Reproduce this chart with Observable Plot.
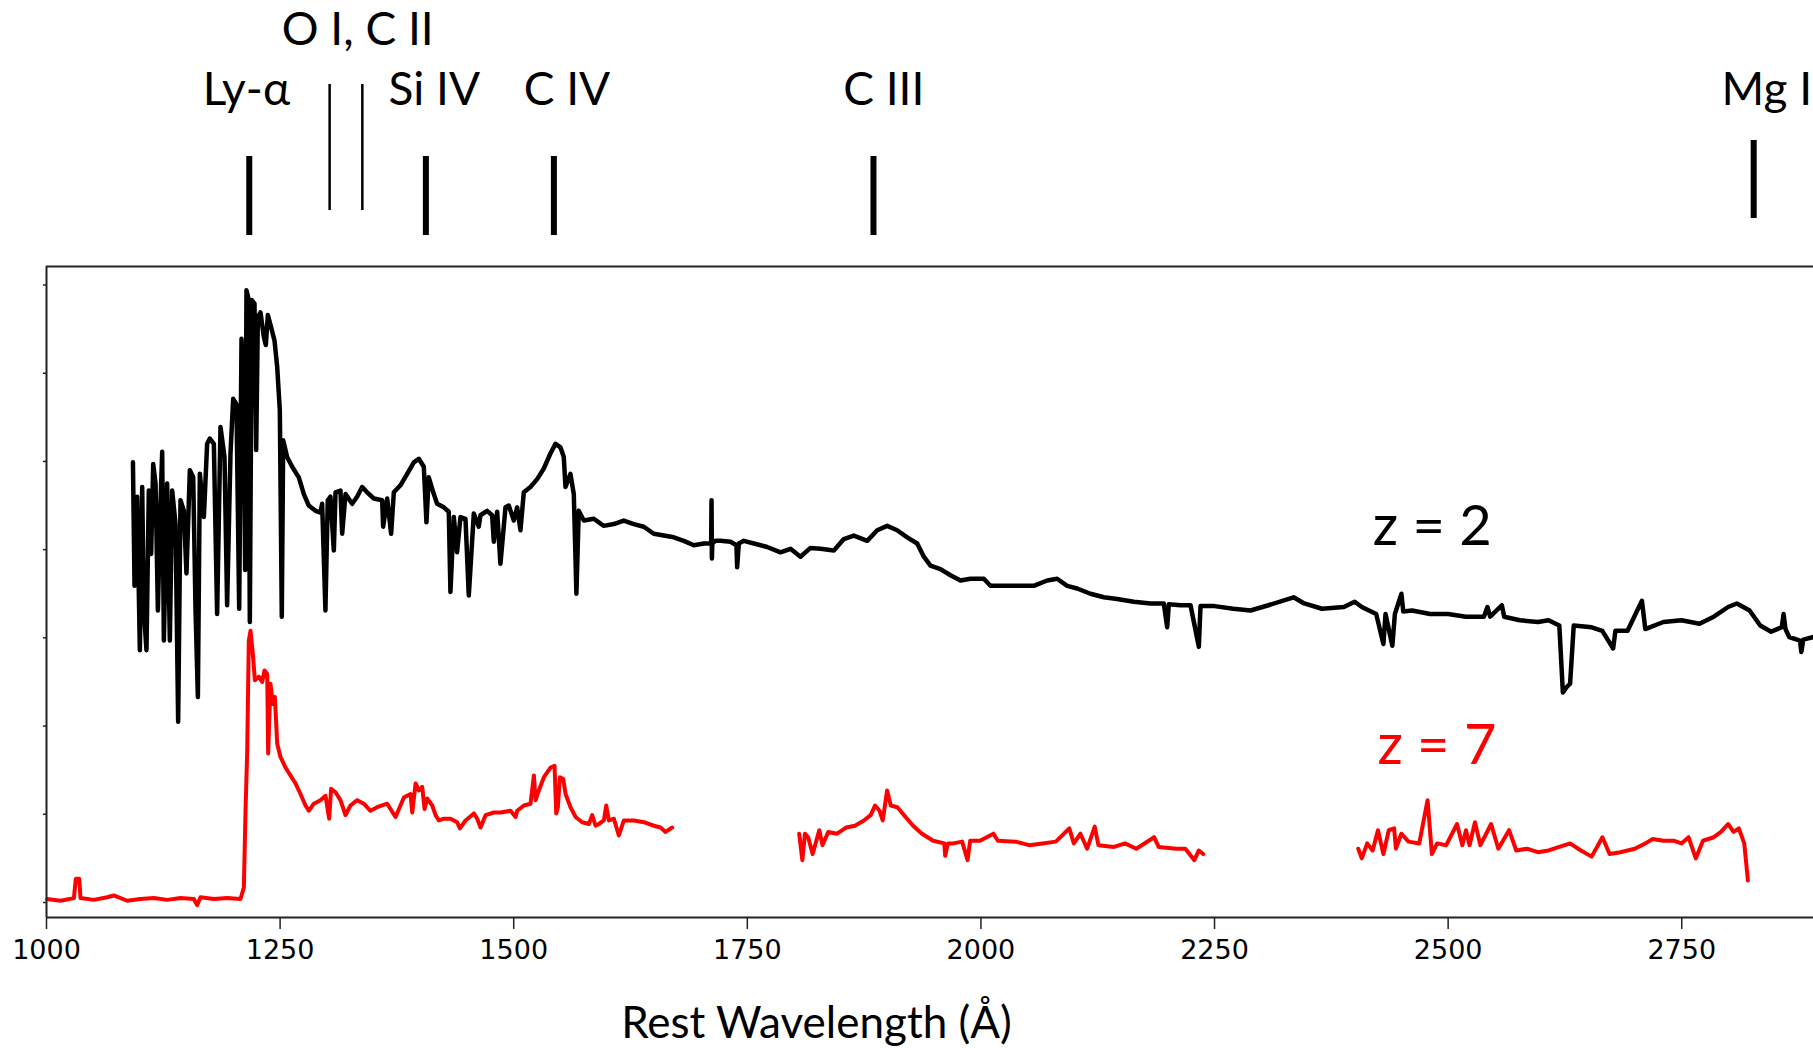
<!DOCTYPE html>
<html><head><meta charset="utf-8">
<script src="https://cdn.jsdelivr.net/npm/d3@7"></script>
<script src="https://cdn.jsdelivr.net/npm/@observablehq/plot@0.6"></script>
<style>
html,body{margin:0;padding:0;background:#fff;overflow:hidden;width:1813px;height:1048px}
#chart svg{display:block}
</style></head><body><div id="chart"></div>
<script>
// ---------------- DATA ----------------
const xDomain = [1000, 2891];
const yDomain = [-0.17, 7.21];
const xTicks = [1000, 1250, 1500, 1750, 2000, 2250, 2500, 2750];
const yTicks = [0, 1, 2, 3, 4, 5, 6, 7];
const xLabel = "Rest Wavelength (Å)";
const xLabelWave = 1824;

// emission line markers (rest wavelength, Å)
const lineNames = ["Ly-α", "O I", "C II", "Si IV", "C IV", "C III", "Mg II"];
const lineWaves = [1217, 1303, 1338, 1406, 1543, 1885, 2827];
const lineKinds = ["strong", "weak", "weak", "strong", "strong", "strong", "strong"];

// marker labels
const labelTexts = ["Ly-α", "O I, C II", "Si IV", "C IV", "C III", "Mg II"];
const labelWaves = [1214, 1333, 1415, 1557, 1896, 2848];
const labelRows = [1, 0, 1, 1, 1, 1];

// series labels
const seriesNames = ["z = 2", "z = 7"];
const seriesLabelWaves = [2483, 2488];
const seriesLabelFlux = [4.26, 1.77];

// z = 2 spectrum [wavelength, flux]
const z2Spectrum = [
[1092.5,4.99],[1094.2,3.59],[1097.0,4.60],[1099.9,2.86],[1102.4,4.71],[1104.2,3.31],[1107.0,2.86],[1109.5,4.67],
[1112.0,3.95],[1114.2,4.97],[1116.7,4.75],[1119.2,3.31],[1122.0,4.52],[1123.8,5.11],[1125.6,2.97],[1129.1,4.75],
[1132.0,2.97],[1134.5,4.67],[1138.1,4.29],[1140.9,2.05],[1143.4,4.56],[1147.0,4.44],[1149.8,3.73],[1153.4,4.90],
[1157.0,4.82],[1159.5,3.31],[1162.0,2.33],[1164.1,4.86],[1168.4,4.37],[1171.9,5.20],[1174.8,5.26],[1179.1,5.20],
[1182.6,3.27],[1186.2,5.39],[1190.5,5.05],[1193.3,3.37],[1196.9,5.09],[1199.8,5.71],[1203.3,5.65],[1206.2,3.33],
[1208.7,6.39],[1211.2,5.58],[1212.6,3.77],[1214.0,6.94],[1215.8,6.86],[1217.6,3.18],[1219.7,6.83],[1222.6,6.79],
[1224.4,5.13],[1226.2,6.64],[1229.0,6.69],[1232.6,6.41],[1234.7,6.32],[1236.9,6.66],[1240.4,6.52],[1244.0,6.37],
[1246.9,6.07],[1249.7,5.58],[1251.8,3.24],[1253.3,5.24],[1257.5,5.05],[1262.9,4.94],[1270.0,4.82],[1275.4,4.63],
[1280.7,4.50],[1287.9,4.44],[1293.2,4.42],[1295.0,4.52],[1298.5,3.31],[1301.0,4.56],[1303.9,4.60],[1307.5,3.99],
[1309.3,4.65],[1314.6,4.67],[1316.4,4.18],[1320.0,4.63],[1327.1,4.52],[1332.4,4.60],[1337.8,4.71],[1343.1,4.65],
[1350.3,4.58],[1359.2,4.56],[1360.3,4.26],[1364.6,4.58],[1368.8,4.18],[1371.7,4.65],[1378.8,4.73],[1386.0,4.86],
[1393.1,4.99],[1398.4,5.03],[1403.8,4.94],[1406.6,4.31],[1409.1,4.82],[1414.5,4.63],[1418.0,4.52],[1425.2,4.48],
[1430.5,4.43],[1432.3,3.52],[1435.9,4.37],[1439.4,3.97],[1443.0,4.37],[1448.4,4.35],[1451.9,3.48],[1457.3,4.41],
[1462.6,4.26],[1464.4,4.39],[1471.6,4.44],[1476.9,4.39],[1478.7,4.09],[1482.3,4.43],[1485.8,3.84],[1491.2,4.48],
[1494.7,4.50],[1500.1,4.33],[1503.7,4.48],[1507.2,4.22],[1510.8,4.65],[1517.9,4.71],[1525.1,4.80],[1532.2,4.92],
[1539.3,5.09],[1544.7,5.20],[1550.0,5.16],[1553.6,5.05],[1555.4,4.71],[1560.7,4.86],[1564.3,4.63],[1567.1,3.50],
[1569.6,4.44],[1575.0,4.33],[1585.7,4.35],[1596.4,4.27],[1607.1,4.29],[1617.8,4.33],[1628.5,4.29],[1639.2,4.26],
[1649.9,4.18],[1660.6,4.16],[1671.3,4.14],[1682.0,4.10],[1692.7,4.05],[1703.4,4.07],[1711.3,4.07],[1711.7,4.56],
[1712.1,3.90],[1712.5,4.07],[1716.0,4.10],[1721.3,4.10],[1732.0,4.09],[1738.4,4.05],[1739.1,3.80],[1740.9,4.07],
[1746.3,4.10],[1757.0,4.07],[1771.2,4.03],[1785.5,3.97],[1796.2,4.01],[1806.9,3.92],[1817.6,4.02],[1828.3,4.01],
[1842.6,3.99],[1853.3,4.12],[1864.0,4.16],[1878.3,4.10],[1889.0,4.22],[1899.7,4.27],[1910.3,4.22],[1921.1,4.14],
[1931.8,4.07],[1938.9,3.92],[1946.0,3.82],[1956.7,3.78],[1967.4,3.71],[1978.1,3.65],[1988.8,3.67],[2003.1,3.67],
[2010.2,3.59],[2020.9,3.59],[2038.8,3.59],[2056.6,3.59],[2070.9,3.65],[2081.6,3.67],[2092.3,3.59],[2103.0,3.56],
[2117.2,3.50],[2131.5,3.46],[2145.8,3.44],[2163.6,3.41],[2181.5,3.39],[2195.7,3.39],[2199.3,3.12],[2201.1,3.38],
[2213.5,3.37],[2224.3,3.37],[2233.2,2.90],[2235.0,3.36],[2250.0,3.36],[2270.0,3.33],[2288.5,3.31],[2307.7,3.37],
[2334.6,3.46],[2346.0,3.39],[2365.0,3.33],[2388.4,3.35],[2400.0,3.41],[2407.6,3.35],[2423.0,3.27],[2430.7,2.93],
[2433.0,3.27],[2440.3,2.91],[2443.0,3.27],[2450.0,3.50],[2452.0,3.30],[2461.4,3.31],[2480.7,3.27],[2499.9,3.27],
[2519.0,3.24],[2538.3,3.24],[2542.0,3.35],[2545.0,3.24],[2557.5,3.37],[2560.0,3.24],[2576.7,3.20],[2596.0,3.18],
[2607.5,3.20],[2619.0,3.14],[2622.8,2.38],[2626.7,2.44],[2630.5,2.48],[2634.4,3.14],[2653.6,3.12],[2665.0,3.08],
[2676.6,2.88],[2679.0,3.08],[2692.0,3.08],[2707.4,3.42],[2711.0,3.10],[2730.4,3.18],[2749.7,3.20],[2769.0,3.16],
[2784.3,3.24],[2799.6,3.35],[2809.0,3.39],[2822.6,3.31],[2834.0,3.14],[2845.7,3.07],[2857.0,3.12],[2859.0,3.27],
[2861.0,3.10],[2865.0,3.01],[2876.5,2.97],[2878.0,2.84],[2880.0,2.98],[2891.0,3.01]
];

// z = 7 spectrum, three observed segments [wavelength, flux]
const z7Segment1 = [
[1000.7,0.04],[1015.0,0.02],[1029.3,0.05],[1031.4,0.27],[1035.0,0.27],[1036.4,0.05],[1050.7,0.03],[1064.9,0.06],
[1072.0,0.08],[1086.3,0.02],[1100.6,0.04],[1114.9,0.05],[1129.1,0.03],[1143.4,0.05],[1157.7,0.04],[1161.2,-0.03],
[1164.8,0.06],[1179.1,0.04],[1193.4,0.05],[1207.6,0.04],[1211.2,0.17],[1213.0,1.04],[1214.8,1.72],[1216.5,2.97],
[1218.3,3.08],[1220.8,2.82],[1223.0,2.52],[1227.2,2.56],[1230.8,2.50],[1233.3,2.63],[1236.2,2.59],[1237.2,1.69],
[1239.7,2.48],[1242.2,2.25],[1244.4,2.33],[1246.9,1.80],[1250.4,1.65],[1255.8,1.53],[1261.1,1.44],[1266.5,1.35],
[1271.8,1.23],[1277.2,1.10],[1280.7,1.04],[1286.1,1.12],[1293.2,1.16],[1298.6,1.21],[1302.5,0.95],[1304.6,1.29],
[1309.3,1.25],[1314.6,1.16],[1320.0,0.99],[1325.3,1.10],[1332.5,1.16],[1339.6,1.12],[1346.7,1.04],[1353.9,1.08],
[1364.6,1.12],[1373.5,0.97],[1378.8,1.10],[1382.5,1.19],[1389.6,1.23],[1391.4,1.02],[1395.0,1.35],[1398.5,1.27],
[1402.1,1.31],[1404.6,1.06],[1407.4,1.18],[1412.8,1.10],[1416.4,0.99],[1419.9,0.93],[1425.3,0.95],[1432.4,0.95],
[1439.5,0.91],[1442.4,0.84],[1448.5,0.93],[1457.4,1.01],[1461.0,0.95],[1464.5,0.85],[1469.9,0.99],[1478.8,1.02],
[1485.9,1.02],[1496.6,1.04],[1502.0,0.97],[1503.7,1.04],[1510.9,1.10],[1518.0,1.12],[1521.6,1.44],[1523.4,1.16],
[1526.9,1.27],[1532.3,1.42],[1539.4,1.53],[1543.7,1.55],[1545.5,1.01],[1547.3,1.08],[1549.4,1.42],[1553.0,1.40],
[1555.5,1.23],[1560.8,1.08],[1566.2,0.97],[1573.3,0.91],[1580.4,0.89],[1584.0,0.99],[1587.6,0.87],[1591.1,0.89],
[1596.5,0.93],[1599.0,1.10],[1601.8,0.93],[1607.2,0.95],[1612.5,0.76],[1617.9,0.93],[1628.6,0.93],[1639.3,0.91],
[1650.0,0.87],[1657.1,0.85],[1662.5,0.80],[1669.6,0.85]
];
const z7Segment2 = [
[1805.5,0.78],[1808.9,0.48],[1811.7,0.78],[1815.1,0.74],[1819.9,0.55],[1827.0,0.82],[1830.4,0.65],[1836.6,0.80],
[1846.1,0.78],[1855.7,0.85],[1865.2,0.87],[1874.8,0.93],[1882.0,0.99],[1886.7,1.10],[1891.5,1.04],[1894.9,0.93],
[1899.6,1.27],[1903.5,1.10],[1910.6,1.08],[1917.8,0.99],[1927.4,0.87],[1936.9,0.78],[1948.9,0.70],[1960.8,0.67],
[1961.8,0.53],[1964.6,0.67],[1970.4,0.67],[1979.9,0.69],[1985.7,0.48],[1988.5,0.70],[1999.0,0.70],[2013.4,0.78],
[2018.1,0.70],[2037.3,0.69],[2051.6,0.65],[2065.9,0.67],[2080.2,0.69],[2094.6,0.84],[2099.4,0.67],[2106.5,0.78],
[2113.7,0.61],[2121.8,0.86],[2125.7,0.65],[2142.4,0.63],[2154.3,0.67],[2166.3,0.61],[2185.4,0.74],[2190.2,0.63],
[2209.3,0.61],[2218.8,0.61],[2228.4,0.48],[2233.2,0.59],[2237.9,0.55]
];
const z7Segment3 = [
[2403.8,0.61],[2407.6,0.50],[2413.4,0.67],[2419.2,0.59],[2424.9,0.82],[2430.7,0.55],[2436.5,0.82],[2442.2,0.84],
[2444.1,0.61],[2449.9,0.78],[2457.6,0.69],[2469.1,0.67],[2478.0,1.16],[2482.6,0.55],[2488.3,0.67],[2497.9,0.65],
[2509.5,0.89],[2515.2,0.65],[2519.1,0.82],[2522.9,0.65],[2528.7,0.91],[2534.5,0.65],[2546.0,0.89],[2553.7,0.61],
[2565.2,0.82],[2572.9,0.59],[2584.4,0.61],[2595.9,0.57],[2607.5,0.59],[2619.0,0.63],[2630.5,0.67],[2642.1,0.59],
[2653.6,0.52],[2665.1,0.74],[2672.8,0.55],[2684.3,0.57],[2699.7,0.61],[2711.2,0.67],[2718.9,0.72],[2730.4,0.70],
[2742.0,0.70],[2749.7,0.67],[2757.3,0.74],[2765.0,0.50],[2772.7,0.70],[2784.3,0.74],[2792.0,0.80],[2799.6,0.89],
[2805.4,0.80],[2811.1,0.84],[2816.9,0.67],[2820.8,0.25]
];

// ---------------- LAYOUT ----------------
const W = 1813, ML = 46;
const TOP_H = 265, BOT_H = 783;
const ANNOT_FONT = "Lato, 'Open Sans', sans-serif";
const TICK_FONT = "'DejaVu Sans', sans-serif";

const lines = lineNames.map((name, i) => ({name, wave: lineWaves[i], kind: lineKinds[i]}));
const labels = labelTexts.map((text, i) => ({text, wave: labelWaves[i], row: labelRows[i]}));
const seriesLabels = seriesNames.map((text, i) => ({text, wave: seriesLabelWaves[i], flux: seriesLabelFlux[i]}));
const toObj = arr => arr.map(([wave, flux]) => ({wave, flux}));

const topPlot = Plot.plot({
  width: W, height: TOP_H,
  marginLeft: ML, marginRight: 0, marginTop: 0, marginBottom: 0,
  x: {domain: xDomain, axis: null},
  y: {domain: [0, TOP_H], range: [0, TOP_H], axis: null},
  style: {background: "transparent", overflow: "visible"},
  marks: [
    Plot.ruleX(lines.filter(d => d.kind === "strong" && d.name !== "Mg II"), {x: "wave", y1: 156, y2: 235, stroke: "#000", strokeWidth: 6}),
    Plot.ruleX(lines.filter(d => d.name === "Mg II"), {x: "wave", y1: 140, y2: 218, stroke: "#000", strokeWidth: 6}),
    Plot.ruleX(lines.filter(d => d.kind === "weak"), {x: "wave", y1: 84, y2: 210, stroke: "#000", strokeWidth: 2.5}),
    Plot.text(labels, {x: "wave", y: d => d.row === 0 ? 30 : 90, text: "text", fontSize: 46, fontFamily: ANNOT_FONT, fill: "#000", textAnchor: "middle", lineAnchor: "middle"})
  ]
});

const botPlot = Plot.plot({
  width: W, height: BOT_H,
  marginLeft: ML, marginRight: 0, marginTop: 1, marginBottom: 131,
  x: {domain: xDomain},
  y: {domain: yDomain},
  style: {background: "transparent", overflow: "visible"},
  marks: [
    Plot.axisX({ticks: xTicks, tickSize: 12, tickPadding: 10, fontSize: 27, fontFamily: TICK_FONT, label: null, stroke: "#222", strokeWidth: 1.5, tickFormat: d => String(d)}),
    Plot.axisY({ticks: yTicks, tickSize: 3, tickFormat: () => "", label: null, stroke: "#222", strokeWidth: 1.5}),
    Plot.line(toObj(z7Segment1), {x: "wave", y: "flux", stroke: "#ff0000", strokeWidth: 4, strokeLinejoin: "round"}),
    Plot.line(toObj(z7Segment2), {x: "wave", y: "flux", stroke: "#ff0000", strokeWidth: 4, strokeLinejoin: "round"}),
    Plot.line(toObj(z7Segment3), {x: "wave", y: "flux", stroke: "#ff0000", strokeWidth: 4, strokeLinejoin: "round"}),
    Plot.line(toObj(z2Spectrum), {x: "wave", y: "flux", stroke: "#000", strokeWidth: 4.5, strokeLinejoin: "round"}),
    Plot.ruleY([yDomain[1]], {stroke: "#222", strokeWidth: 2}),
    Plot.ruleY([yDomain[0]], {stroke: "#222", strokeWidth: 2}),
    Plot.ruleX([xDomain[0]], {y1: yDomain[0], y2: yDomain[1], stroke: "#222", strokeWidth: 2}),
    Plot.text(seriesLabels, {x: "wave", y: "flux", text: "text", fontSize: 56, fontFamily: ANNOT_FONT, fill: (d, i) => i === 0 ? "#000" : "#ff0000", textAnchor: "middle", lineAnchor: "middle"}),
    Plot.text([xLabel], {x: () => xLabelWave, frameAnchor: "bottom", dy: 106, text: d => d, fontSize: 44, fontFamily: ANNOT_FONT, fill: "#000", textAnchor: "middle", lineAnchor: "middle"})
  ]
});

const root = document.getElementById("chart");
root.appendChild(topPlot);
root.appendChild(botPlot);
</script></body></html>
